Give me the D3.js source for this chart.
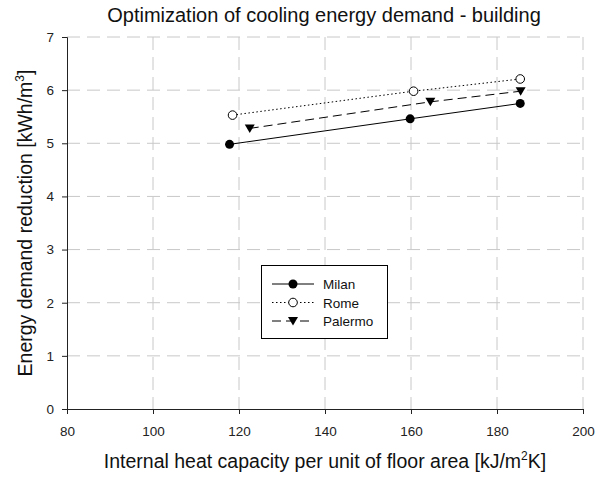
<!DOCTYPE html>
<html>
<head>
<meta charset="utf-8">
<script src="https://cdn.jsdelivr.net/npm/d3@7"></script>
<style>
  body { margin: 0; background: #fff; }
  text { font-family: "Liberation Sans", Arial, sans-serif; }
</style>
</head>
<body>
<script>
var svgW = 604;
var svgH = 477;

// data
var milanX = [117.8, 159.8, 185.4];
var milanY = [4.98, 5.46, 5.75];
var romeX = [118.5, 160.6, 185.4];
var romeY = [5.53, 5.98, 6.21];
var palermoX = [122.5, 164.5, 185.5];
var palermoY = [5.28, 5.78, 5.98];

var xTicks = [80, 100, 120, 140, 160, 180, 200];
var yTicks = [0, 1, 2, 3, 4, 5, 6, 7];
var seriesNames = ["Milan", "Rome", "Palermo"];

var plotL = 67, plotR = 583, plotT = 37, plotB = 409;

var svg = d3.select("body")
  .append("svg")
  .attr("width", svgW)
  .attr("height", svgH);

var x = d3.scaleLinear().domain([80, 200]).range([plotL, plotR]);
var y = d3.scaleLinear().domain([0, 7]).range([plotB, plotT]);

// grid
svg.selectAll("line.vgrid")
  .data(xTicks.slice(1))
  .enter()
  .append("line")
  .attr("class", "vgrid")
  .attr("x1", function(d) { return x(d); })
  .attr("x2", function(d) { return x(d); })
  .attr("y1", plotT)
  .attr("y2", plotB)
  .attr("stroke", "#c8c8c8")
  .attr("stroke-width", 1)
  .attr("stroke-dasharray", "13,7");

svg.selectAll("line.hgrid")
  .data(yTicks.slice(1))
  .enter()
  .append("line")
  .attr("class", "hgrid")
  .attr("x1", plotL)
  .attr("x2", plotR)
  .attr("y1", function(d) { return y(d); })
  .attr("y2", function(d) { return y(d); })
  .attr("stroke", "#c8c8c8")
  .attr("stroke-width", 1)
  .attr("stroke-dasharray", "13,7");

// axes
var xAxis = svg.append("g")
  .attr("transform", "translate(0," + plotB + ")")
  .call(d3.axisBottom(x).tickValues(xTicks).tickSize(5).tickPadding(12).tickFormat(d3.format("d")));
var yAxis = svg.append("g")
  .attr("transform", "translate(" + plotL + ",0)")
  .call(d3.axisLeft(y).tickValues(yTicks).tickSize(5).tickPadding(8).tickFormat(d3.format("d")));

[xAxis, yAxis].forEach(function(a) {
  a.selectAll("text")
    .attr("font-family", "'Liberation Sans', Arial, sans-serif")
    .attr("font-size", "13.5px")
    .attr("fill", "#222");
  a.selectAll("line").attr("stroke", "#222");
  a.select(".domain").attr("stroke", "#222");
});

// series
var series = [
  { name: "Milan", xs: milanX, ys: milanY, dash: null, marker: "filled" },
  { name: "Rome", xs: romeX, ys: romeY, dash: "1.5,2.5", marker: "open" },
  { name: "Palermo", xs: palermoX, ys: palermoY, dash: "9,5", marker: "tri" }
];

var line = d3.line()
  .x(function(d) { return x(d[0]); })
  .y(function(d) { return y(d[1]); });

function drawMarker(g, kind, cx, cy) {
  if (kind === "filled") {
    g.append("circle").attr("cx", cx).attr("cy", cy).attr("r", 4.5)
      .attr("fill", "#000");
  } else if (kind === "open") {
    g.append("circle").attr("cx", cx).attr("cy", cy).attr("r", 4.3)
      .attr("fill", "#fff").attr("stroke", "#000").attr("stroke-width", 1);
  } else {
    var s = 5;
    g.append("path")
      .attr("d", "M" + (cx - s) + "," + (cy - s * 0.8) + "L" + (cx + s) + "," + (cy - s * 0.8) + "L" + cx + "," + (cy + s * 0.9) + "Z")
      .attr("fill", "#000");
  }
}

series.forEach(function(s) {
  var pts = s.xs.map(function(v, i) { return [v, s.ys[i]]; });
  svg.append("path")
    .datum(pts)
    .attr("d", line)
    .attr("fill", "none")
    .attr("stroke", "#000")
    .attr("stroke-width", 1)
    .attr("stroke-dasharray", s.dash);
  var g = svg.append("g");
  pts.forEach(function(p) { drawMarker(g, s.marker, x(p[0]), y(p[1])); });
});

// legend
var lg = svg.append("g");
lg.append("rect")
  .attr("x", 261.5).attr("y", 265.5)
  .attr("width", 126).attr("height", 73)
  .attr("fill", "#fff").attr("stroke", "#000").attr("stroke-width", 1);

series.forEach(function(s, i) {
  var ly = 284 + i * 18.5;
  lg.append("line")
    .attr("x1", 272).attr("x2", 314)
    .attr("y1", ly).attr("y2", ly)
    .attr("stroke", "#000").attr("stroke-width", 1)
    .attr("stroke-dasharray", s.dash);
  drawMarker(lg, s.marker, 293, ly);
  lg.append("text")
    .attr("x", 323).attr("y", ly + 5)
    .attr("font-size", "13.5px")
    .attr("fill", "#111")
    .text(seriesNames[i]);
});

// title and labels
svg.append("text")
  .attr("x", 324).attr("y", 22)
  .attr("text-anchor", "middle")
  .attr("font-size", "20px")
  .attr("fill", "#111")
  .text("Optimization of cooling energy demand - building");

var xl = svg.append("text")
  .attr("x", 325).attr("y", 468)
  .attr("text-anchor", "middle")
  .attr("font-size", "19.5px")
  .attr("fill", "#111");
xl.append("tspan").text("Internal heat capacity per unit of floor area [kJ/m");
xl.append("tspan").attr("dy", -8).attr("font-size", "12px").text("2");
xl.append("tspan").attr("dy", 8).text("K]");

var yl = svg.append("text")
  .attr("transform", "translate(32,223) rotate(-90)")
  .attr("text-anchor", "middle")
  .attr("font-size", "19.5px")
  .attr("fill", "#111");
yl.append("tspan").text("Energy demand reduction [kWh/m");
yl.append("tspan").attr("dy", -8).attr("font-size", "12px").text("3");
yl.append("tspan").attr("dy", 8).text("]");
</script>
</body>
</html>
